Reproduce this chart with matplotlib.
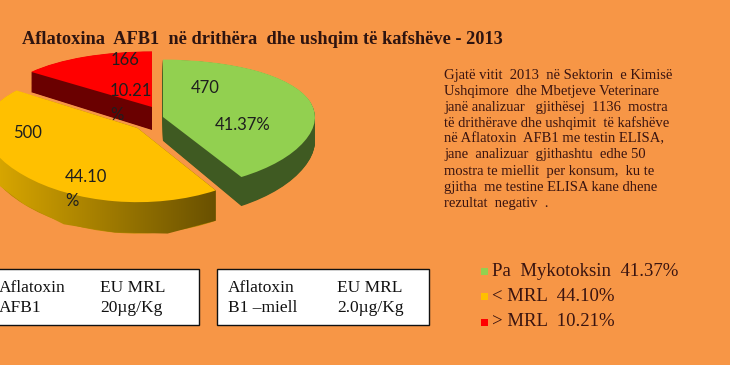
import numpy as np
import matplotlib
matplotlib.use("Agg")
import matplotlib.pyplot as plt
from matplotlib.patches import Rectangle, Polygon

# --- DATA ---
categories = ["Pa  Mykotoksin", "< MRL", "> MRL"]
counts = [470, 500, 166]
pct_labels = ["41.37%", "44.10%", "10.21%"]
slice_pct_text = ["41.37%", "44.10\n%", "10.21\n%"]

top_colors = ["#92D050", "#FFC000", "#FF0000"]
side_colors = ["#3F5A22", "#B88A00", "#6A0000"]

title = "Aflatoxina  AFB1  në drithëra  dhe ushqim të kafshëve - 2013"
paragraph = [
    "Gjatë vitit  2013  në Sektorin  e Kimisë",
    "Ushqimore  dhe Mbetjeve Veterinare",
    "janë analizuar   gjithësej  1136  mostra",
    "të drithërave dhe ushqimit  të kafshëve",
    "në Aflatoxin  AFB1 me testin ELISA,",
    "jane  analizuar  gjithashtu  edhe 50",
    "mostra te miellit  per konsum,  ku te",
    "gjitha  me testine ELISA kane dhene",
    "rezultat  negativ  .",
]
box1 = [["Aflatoxin", "EU MRL"], ["AFB1", "20µg/Kg"]]
box2 = [["Aflatoxin", "EU MRL"], ["B1 \u2013miell", "2.0µg/Kg"]]

BG = "#F79646"
TXT = "#2E1410"
W, H = 730, 365

# pie geometry: pixel position of the pie centre, x radius, y scale
cx, cy, rx, ky = 145, 128, 152, 66
persp = 0.11          # perspective squeeze of the far half
depth = 0.36          # wall height in data units
# per-slice displacement (data units) instead of radial explode
offsets = [(0.118, 0.170), (-0.05, 0.0), (0.046, 0.33)]


def fwd(y):
    return y / (1 + persp * y)


def inv(f):
    return f / (1 - persp * f)


def px(x, y):
    return x / W, 1 - y / H


fig = plt.figure(figsize=(7.3, 3.65), dpi=100, facecolor=BG)
ax = fig.add_axes([0, 0, 1, 1])
ax.set_facecolor("none")
ax.set_yscale("function", functions=(fwd, inv))


def draw_pie(colors, z, zorder):
    ws, _ = ax.pie(counts, colors=colors, startangle=90, counterclock=False,
                   radius=1, wedgeprops=dict(linewidth=0))
    for w, (dx, dy) in zip(ws, offsets):
        w.set_center((dx, dy - z))
        w.set_zorder(zorder)
    return ws


# side walls: stacked layers
n_layers = 45
for z in np.linspace(depth, 0, n_layers, endpoint=False):
    draw_pie(side_colors, z, 1)

# top faces
wedges = draw_pie(top_colors, 0, 3)


def hull(points):
    pts = sorted(set(map(tuple, np.round(points, 6))))

    def cross(o, a, b):
        return (a[0] - o[0]) * (b[1] - o[1]) - (a[1] - o[1]) * (b[0] - o[0])
    lower, upper = [], []
    for p in pts:
        while len(lower) >= 2 and cross(lower[-2], lower[-1], p) <= 0:
            lower.pop()
        lower.append(p)
    for p in reversed(pts):
        while len(upper) >= 2 and cross(upper[-2], upper[-1], p) <= 0:
            upper.pop()
        upper.append(p)
    return np.array(lower[:-1] + upper[:-1])


# gradient on the yellow wall
yp = wedges[1].get_path().to_polygons()[0]
yh = hull(np.vstack([yp, yp - [0, depth]]))
clip = Polygon(yh, closed=True, facecolor="none", edgecolor="none",
               transform=ax.transData)
ax.add_patch(clip)
c0 = np.array([0.87, 0.67, 0.0])
c1 = np.array([0.38, 0.29, 0.0])
t = np.linspace(0, 1, 256)[:, None]
grad = (c0 + (c1 - c0) * t)[None, :, :]
x0 = (0 - cx) / rx - 0.1
x1 = (232 - cx) / rx
im = ax.imshow(grad, extent=(x0, x1, -1.6, 0.5), aspect="auto",
               interpolation="bilinear", zorder=2)
im.set_clip_path(clip)

ax.set_xlim((0 - cx) / rx, (W - cx) / rx)
ax.set_ylim(inv((cy - H) / ky), inv(cy / ky))
ax.set_aspect("auto")
ax.axis("off")

# slice labels
lab_font = dict(family="Lato", fontsize=12, color="#1E1E1E")
fig.text(*px(205, 88), str(counts[0]), ha="center", va="center", **lab_font)
fig.text(*px(243, 125), slice_pct_text[0], ha="center", va="center", **lab_font)
fig.text(*px(28, 133), str(counts[1]), ha="center", va="center", **lab_font)
fig.text(*px(65, 189), slice_pct_text[1], ha="left", va="center",
         linespacing=1.55, **lab_font)
fig.text(*px(125, 60), str(counts[2]), ha="center", va="center", **lab_font)
fig.text(*px(110, 103), slice_pct_text[2], ha="left", va="center",
         linespacing=1.55, **lab_font)

# title
fig.text(*px(22, 40), title, ha="left", va="center", family="Liberation Serif",
         fontweight="bold", fontsize=13.2, color=TXT)

# paragraph
for i, line in enumerate(paragraph):
    fig.text(*px(444, 75 + i * 16), line, ha="left", va="center",
             family="Liberation Serif", fontsize=10.5, color="#3A1410")

# boxes
serif = dict(family="Liberation Serif", fontsize=12.5, color="#111111")
for (bx0, bx1), rows, cols in [((-5, 199), box1, (-1, 100)),
                               ((217, 429), box2, (228, 337))]:
    x0f, y0f = px(bx0, 325)
    x1f, y1f = px(bx1, 269)
    fig.patches.append(Rectangle((x0f, y0f), x1f - x0f, y1f - y0f,
                                 transform=fig.transFigure, facecolor="white",
                                 edgecolor="#111111", linewidth=1))
    for r, row in enumerate(rows):
        for c, cell in enumerate(row):
            fig.text(*px(cols[c], 288 + r * 20), cell, ha="left", va="center",
                     **serif)

# legend
for i, (cat, pct) in enumerate(zip(categories, pct_labels)):
    yy = 271 + i * 25.5
    xf, yf = px(481, yy + 3.5)
    fig.patches.append(Rectangle((xf, yf), 7 / W, 7 / H, transform=fig.transFigure,
                                 facecolor=top_colors[i], edgecolor="none"))
    fig.text(*px(492, yy), f"{cat}  {pct}", ha="left", va="center",
             family="Liberation Serif", fontsize=13.5, color="#3A1410")

fig.savefig("out.png", dpi=100, facecolor=BG)
